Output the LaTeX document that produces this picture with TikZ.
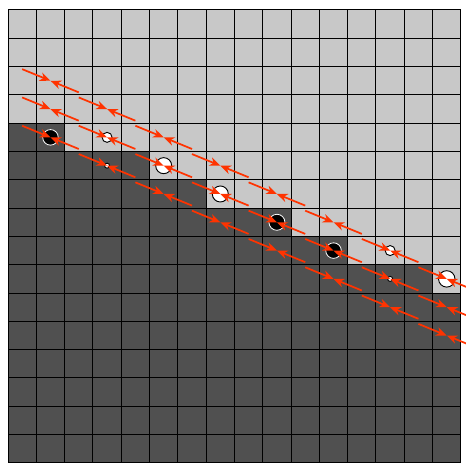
\documentclass[tikz,border=0pt]{standalone}
\usepackage{tikz}
\usetikzlibrary{arrows.meta}
\definecolor{lightcell}{gray}{0.784}
\definecolor{darkcell}{gray}{0.314}
\definecolor{vecred}{RGB}{255,51,0}
\begin{document}
\begin{tikzpicture}[x=0.75cm, y=-0.75cm, >={Stealth[length=8pt, width=6.5pt, inset=2.5pt]}, vec/.style={vecred, line width=1.3pt, ->}, dot on/.style={fill=black, draw=white, line width=0.6pt}, dot off/.style={fill=white, draw=black, line width=0.7pt}]
	\useasboundingbox (-0.283,-0.353) rectangle (16.18,15.97);
	\fill[darkcell] (0,0) rectangle (16,16);
	\foreach \c/\r in {0/4,1/4,2/5,3/5,4/5,5/6,6/6,7/7,8/7,9/7,10/8,11/8,12/9,13/9,14/9,15/10} {\fill[lightcell] (\c,0) rectangle (\c+1,\r);}
	\foreach \i in {0,...,16} {\draw[line width=0.75pt] (\i,0) -- (\i,16); \draw[line width=0.75pt] (0,\i) -- (16,\i);}
	\foreach \c/\r/\s in {1/4/0.275,9/7/0.283,11/8/0.275} {\draw[dot on] (\c+0.5,\r+0.5) circle (\s);}
	\foreach \c/\r/\s in {3/4/0.177,3/5/0.088,5/5/0.283,7/6/0.283,13/8/0.177,13/9/0.088,15/9/0.29} {\draw[dot off] (\c+0.5,\r+0.5) circle (\s);}
	\foreach \k in {0,...,7} {
		\foreach \j in {0,1,2} {
			\coordinate (mid) at (2*\k+1.5,\k+\j+2.5);
			\draw[vec] ([shift={(-1,-0.41)}]mid) -- (mid);
			\draw[vec] ([shift={(1,0.41)}]mid) -- (mid);
		}
	}
\end{tikzpicture}
\end{document}
